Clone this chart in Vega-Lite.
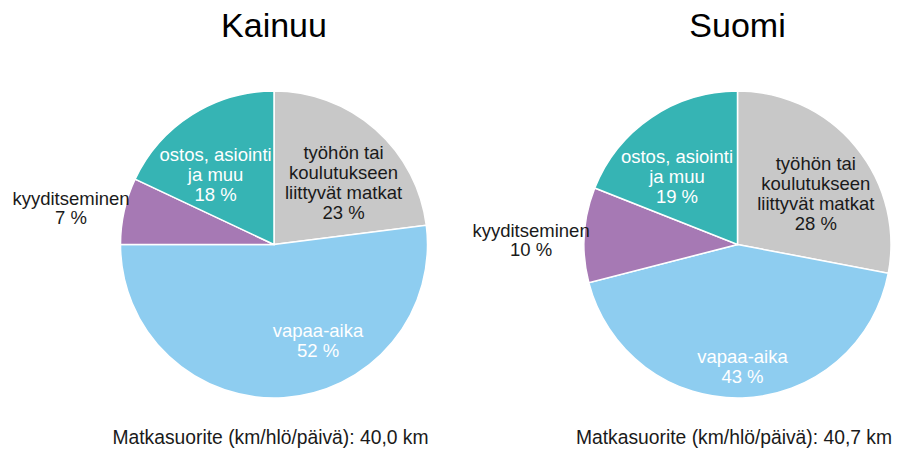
{
  "$schema": "https://vega.github.io/schema/vega-lite/v6.json",
  "padding": {"left": 12, "top": 10, "right": 0, "bottom": 0},
  "config": {"font": "Liberation Sans", "view": {"stroke": null}},
  "data": {
    "values": [
      {"region": "Kainuu", "rank": 1, "category": "työhön tai koulutukseen liittyvät matkat", "value": 23, "label": "työhön tai\nkoulutukseen\nliittyvät matkat\n23 %", "note": "Matkasuorite (km/hlö/päivä): 40,0 km"},
      {"region": "Kainuu", "rank": 2, "category": "vapaa-aika", "value": 52, "label": "vapaa-aika\n52 %", "note": "Matkasuorite (km/hlö/päivä): 40,0 km"},
      {"region": "Kainuu", "rank": 3, "category": "kyyditseminen", "value": 7, "label": "kyyditseminen\n7 %", "note": "Matkasuorite (km/hlö/päivä): 40,0 km"},
      {"region": "Kainuu", "rank": 4, "category": "ostos, asiointi ja muu", "value": 18, "label": "ostos, asiointi\nja muu\n18 %", "note": "Matkasuorite (km/hlö/päivä): 40,0 km"},
      {"region": "Suomi", "rank": 1, "category": "työhön tai koulutukseen liittyvät matkat", "value": 28, "label": "työhön tai\nkoulutukseen\nliittyvät matkat\n28 %", "note": "Matkasuorite (km/hlö/päivä): 40,7 km"},
      {"region": "Suomi", "rank": 2, "category": "vapaa-aika", "value": 43, "label": "vapaa-aika\n43 %", "note": "Matkasuorite (km/hlö/päivä): 40,7 km"},
      {"region": "Suomi", "rank": 3, "category": "kyyditseminen", "value": 10, "label": "kyyditseminen\n10 %", "note": "Matkasuorite (km/hlö/päivä): 40,7 km"},
      {"region": "Suomi", "rank": 4, "category": "ostos, asiointi ja muu", "value": 19, "label": "ostos, asiointi\nja muu\n19 %", "note": "Matkasuorite (km/hlö/päivä): 40,7 km"}
    ]
  },
  "facet": {
    "column": {
      "field": "region",
      "type": "nominal",
      "sort": ["Kainuu", "Suomi"],
      "header": {"title": null, "labelFontSize": 34, "labelFont": "Liberation Sans", "labelColor": "#000000", "labelPadding": 20, "labelBaseline": "alphabetic"}
    }
  },
  "spacing": 63.5,
  "bounds": "flush",
  "resolve": {"scale": {"x": "independent"}},
  "spec": {
    "width": 400,
    "height": 307,
    "encoding": {
      "x": {
        "field": "note",
        "type": "nominal",
        "axis": {
          "title": null, "ticks": false, "tickSize": 0, "domain": false, "grid": false, "labelAngle": 0,
          "labelFontSize": 19.3, "labelFont": "Liberation Sans", "labelColor": "#1a1a1a", "labelPadding": 30, "labelLimit": 0, "labelOffset": -4
        }
      },
      "theta": {"field": "value", "type": "quantitative", "stack": true},
      "order": {"field": "rank", "type": "quantitative"}
    },
    "layer": [
      {
        "mark": {"type": "arc", "stroke": "white", "strokeWidth": 1.5},
        "encoding": {
          "color": {
            "field": "category",
            "type": "nominal",
            "scale": {
              "domain": ["työhön tai koulutukseen liittyvät matkat", "vapaa-aika", "kyyditseminen", "ostos, asiointi ja muu"],
              "range": ["#C8C8C8", "#8ECDF0", "#A679B4", "#36B4B4"]
            },
            "legend": null
          }
        }
      },
      {
        "mark": {"type": "text", "radius": 93, "thetaOffset": 0.122, "dy": -30, "lineBreak": "\n", "fontSize": 18.5, "lineHeight": 20, "color": "#1a1a1a"},
        "encoding": {"text": {"condition": {"test": "datum.rank === 1", "field": "label"}, "value": ""}}
      },
      {
        "mark": {"type": "text", "radius": 106.5, "thetaOffset": -0.363, "dy": -10, "lineBreak": "\n", "fontSize": 18.5, "lineHeight": 20, "color": "#ffffff"},
        "encoding": {"text": {"condition": {"test": "datum.rank === 2 && datum.region === 'Kainuu'", "field": "label"}, "value": ""}}
      },
      {
        "mark": {"type": "text", "radius": 123, "thetaOffset": -0.009, "dy": -10, "lineBreak": "\n", "fontSize": 18.5, "lineHeight": 20, "color": "#ffffff"},
        "encoding": {"text": {"condition": {"test": "datum.rank === 2 && datum.region === 'Suomi'", "field": "label"}, "value": ""}}
      },
      {
        "mark": {"type": "text", "radius": 206.5, "thetaOffset": -0.035, "dy": -8, "lineBreak": "\n", "fontSize": 18.5, "lineHeight": 19, "color": "#1a1a1a"},
        "encoding": {"text": {"condition": {"test": "datum.rank === 3", "field": "label"}, "value": ""}}
      },
      {
        "mark": {"type": "text", "radius": 91, "thetaOffset": -0.131, "dy": -20, "lineBreak": "\n", "fontSize": 18.5, "lineHeight": 20, "color": "#ffffff"},
        "encoding": {"text": {"condition": {"test": "datum.rank === 4", "field": "label"}, "value": ""}}
      }
    ]
  }
}
